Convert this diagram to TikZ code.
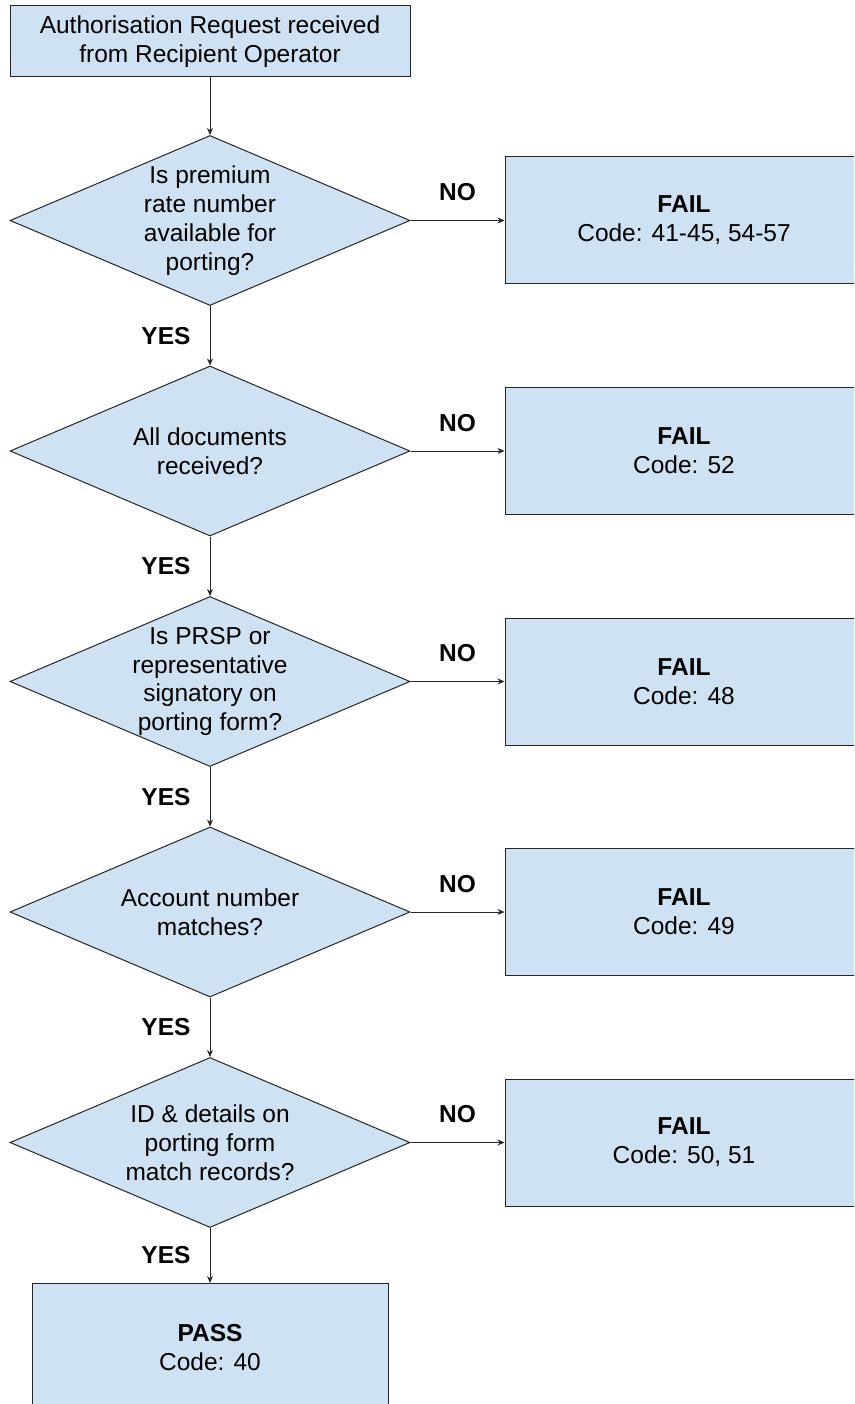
\documentclass[tikz,border=0pt]{standalone}
\usepackage{fontspec}
\setmainfont{Liberation Sans}
\usetikzlibrary{shapes.geometric, arrows, arrows.meta}
\definecolor{boxblue}{HTML}{CFE2F3}
\newcommand{\chartfont}{\fontsize{24.5}{28.8}\selectfont}
\tikzstyle{startbox} = [rectangle, minimum width=400pt, minimum height=71pt, align=center, draw=black!85, line width=1pt, fill=boxblue]
\tikzstyle{question} = [diamond, minimum width=400pt, minimum height=170pt, aspect=2.35, inner sep=-20pt, align=center, draw=black!85, line width=1pt, fill=boxblue, node distance=230.5pt]
\tikzstyle{failbox} = [rectangle, minimum width=358pt, minimum height=127pt, align=center, draw=black!85, line width=1pt, fill=boxblue, node distance=474pt]
\tikzstyle{passbox} = [rectangle, minimum width=356pt, minimum height=128pt, align=center, draw=black!85, line width=1pt, fill=boxblue, node distance=205pt]
\tikzstyle{answer} = [font=\chartfont\bfseries, inner sep=0pt]
\tikzstyle{arrow} = [line width=1pt, draw=black!85, ->, >={Stealth[length=7pt, width=6pt]}]

\begin{document}
\begin{tikzpicture}[node distance=179pt, font=\chartfont]
	\useasboundingbox (0,0) rectangle (854pt,-1404pt);
	\clip (0,0) rectangle (854pt,-1404pt);
	
	\node (request) [startbox] at (210pt,-41.5pt) {Authorisation Request received\\from Recipient Operator};
	
	\node (premium) [question, below of=request, node distance=179pt] {Is premium\\rate number\\available for\\porting?};
	\node (documents) [question, below of=premium] {All documents\\received?};
	\node (signatory) [question, below of=documents] {Is PRSP or\\representative\\signatory on\\porting form?};
	\node (account) [question, below of=signatory] {Account number\\matches?};
	\node (records) [question, below of=account] {ID \& details on\\porting form\\match records?};
	\node (pass) [passbox, below of=records] {\textbf{PASS}\\Code: 40};
	
	\node (failPremium) [failbox, right of=premium] {\textbf{FAIL}\\Code: 41-45, 54-57};
	\node (failDocuments) [failbox, right of=documents] {\textbf{FAIL}\\Code: 52};
	\node (failSignatory) [failbox, right of=signatory] {\textbf{FAIL}\\Code: 48};
	\node (failAccount) [failbox, right of=account] {\textbf{FAIL}\\Code: 49};
	\node (failRecords) [failbox, right of=records] {\textbf{FAIL}\\Code: 50, 51};
	
	\draw [arrow] (request) -- (premium);
	\draw [arrow] (premium) -- node (yesPremium) [answer, midway, left=19pt] {YES} (documents);
	\draw [arrow] (documents) -- node (yesDocuments) [answer, midway, left=19pt] {YES} (signatory);
	\draw [arrow] (signatory) -- node (yesSignatory) [answer, midway, left=19pt] {YES} (account);
	\draw [arrow] (account) -- node (yesAccount) [answer, midway, left=19pt] {YES} (records);
	\draw [arrow] (records) -- node (yesRecords) [answer, midway, left=19pt] {YES} (pass);
	
	\draw [arrow] (premium) -- node (noPremium) [answer, midway, above=19pt] {NO} (failPremium);
	\draw [arrow] (documents) -- node (noDocuments) [answer, midway, above=19pt] {NO} (failDocuments);
	\draw [arrow] (signatory) -- node (noSignatory) [answer, midway, above=19pt] {NO} (failSignatory);
	\draw [arrow] (account) -- node (noAccount) [answer, midway, above=19pt] {NO} (failAccount);
	\draw [arrow] (records) -- node (noRecords) [answer, midway, above=19pt] {NO} (failRecords);
\end{tikzpicture}
\end{document}
